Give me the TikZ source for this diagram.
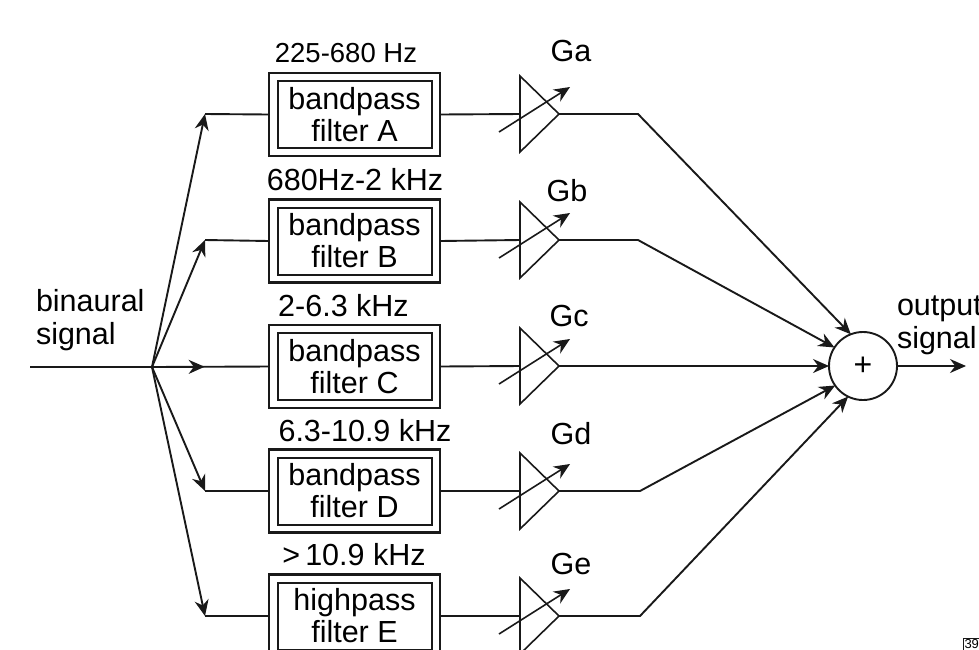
\documentclass[tikz,border=0pt]{standalone}
\usepackage{fontspec}
\setmainfont{Liberation Sans}
\usetikzlibrary{arrows.meta,decorations.markings}
\tikzset{
  every node/.style={inner sep=0pt,outer sep=0pt,font=\fontsize{30.5}{33}\selectfont},
  wire/.style={line width=1.9pt,draw=black!90},
  tip/.style={-{Stealth[length=16pt,width=14pt]}},
  outerbox/.style={draw=black!90,line width=2.4pt,minimum width=171pt,minimum height=83pt},
  innerbox/.style={draw=black!90,line width=2pt,minimum width=154pt,minimum height=67pt,align=center},
  amp/.style={line width=1.6pt,draw=black!90,line join=miter},
  midtip/.style={postaction={decorate},decoration={markings,mark=at position #1 with {\arrow{Stealth[length=16pt,width=14pt]}}}}
}
\newcommand{\filterblock}[4]{%
  \node[outerbox] (o#1) at (354.5,#2) {};
  \node[innerbox] (f#1) at (354.5,#2) {#3\\[-1pt]filter #4};
}
\newcommand{\ampblock}[2]{%
  \coordinate (tl#1) at (520,#2-38);
  \coordinate (bl#1) at (520,#2+38);
  \coordinate (in#1) at (520,#2);
  \coordinate (ap#1) at (559,#2);
  \coordinate (ct#1) at (499,#2+18);
  \coordinate (ch#1) at (570,#2-27);
  \draw[amp] (tl#1) -- (ap#1) -- (bl#1) -- cycle;
  \draw[amp,tip] (ct#1) -- (ch#1);
}
\begin{document}
\begin{tikzpicture}[x=1pt,y=-1pt]
\useasboundingbox (0,0) rectangle (979,649);
\clip (0,0) rectangle (979,649);
\filterblock{a}{114.5}{bandpass}{A}
\filterblock{b}{241}{bandpass}{B}
\filterblock{c}{366.5}{bandpass}{C}
\filterblock{d}{491}{bandpass}{D}
\filterblock{e}{616}{highpass}{E}
\ampblock{a}{114}
\ampblock{b}{240}
\ampblock{c}{366}
\ampblock{d}{491}
\ampblock{e}{616}
\node[font=\fontsize{27.5}{33}\selectfont] (la) at (346,53) {225-680 Hz};
\node (lb) at (355,180) {680Hz-2 kHz};
\node (lc) at (343.5,306) {2-6.3 kHz};
\node (ld) at (365,431) {6.3-10.9 kHz};
\node (le) at (354,555) {>\,10.9 kHz};
\node (ga) at (571,51) {Ga};
\node (gb) at (567,191) {Gb};
\node (gc) at (569,316) {Gc};
\node (gd) at (571,434) {Gd};
\node (ge) at (571,564) {Ge};
\node[anchor=west,align=left] (bin) at (36,320) {binaural\\signal};
\node[anchor=west,align=left] (outl) at (897,325) {output\\signal};
\node[draw=black!90,line width=1.9pt,circle,minimum size=68pt,font=\fontsize{32}{36}\selectfont] (sum) at (863,366) {+};
\coordinate (src) at (30,367);
\coordinate (split) at (152,367);
\coordinate (ca) at (205,114);
\coordinate (cb) at (205,240);
\coordinate (cd) at (205,491);
\coordinate (ce) at (205,616);
\coordinate (ra) at (638,114);
\coordinate (rb) at (638,240);
\coordinate (rd) at (640,491);
\coordinate (re) at (640,616);
\coordinate (oute) at (966,366);
\draw[wire] (src) -- (split);
\draw[wire,tip] (split) -- (ca);
\draw[wire,tip] (split) -- (cb);
\draw[wire,tip] (split) -- (cd);
\draw[wire,tip] (split) -- (ce);
\draw[wire,midtip=0.45] (split) -- (oc.west);
\draw[wire] (ca) -- (oa.west);
\draw[wire] (cb) -- (ob.west);
\draw[wire] (cd) -- (od.west);
\draw[wire] (ce) -- (oe.west);
\draw[wire] (oa.east) -- (ina);
\draw[wire] (ob.east) -- (inb);
\draw[wire] (oc.east) -- (inc);
\draw[wire] (od.east) -- (ind);
\draw[wire] (oe.east) -- (ine);
\draw[wire,tip] (apa) -- (ra) -- (sum.111);
\draw[wire,tip] (apb) -- (rb) -- (sum.147);
\draw[wire,tip] (apc) -- (sum.west);
\draw[wire,tip] (apd) -- (rd) -- (sum.215);
\draw[wire,tip] (ape) -- (re) -- (sum.244);
\draw[wire,tip] (sum.east) -- (oute);
\node[draw=black!90,line width=1pt,anchor=north west,inner sep=1.5pt,font=\fontsize{13}{15}\selectfont] (tag) at (963,638) {39};
\end{tikzpicture}
\end{document}
